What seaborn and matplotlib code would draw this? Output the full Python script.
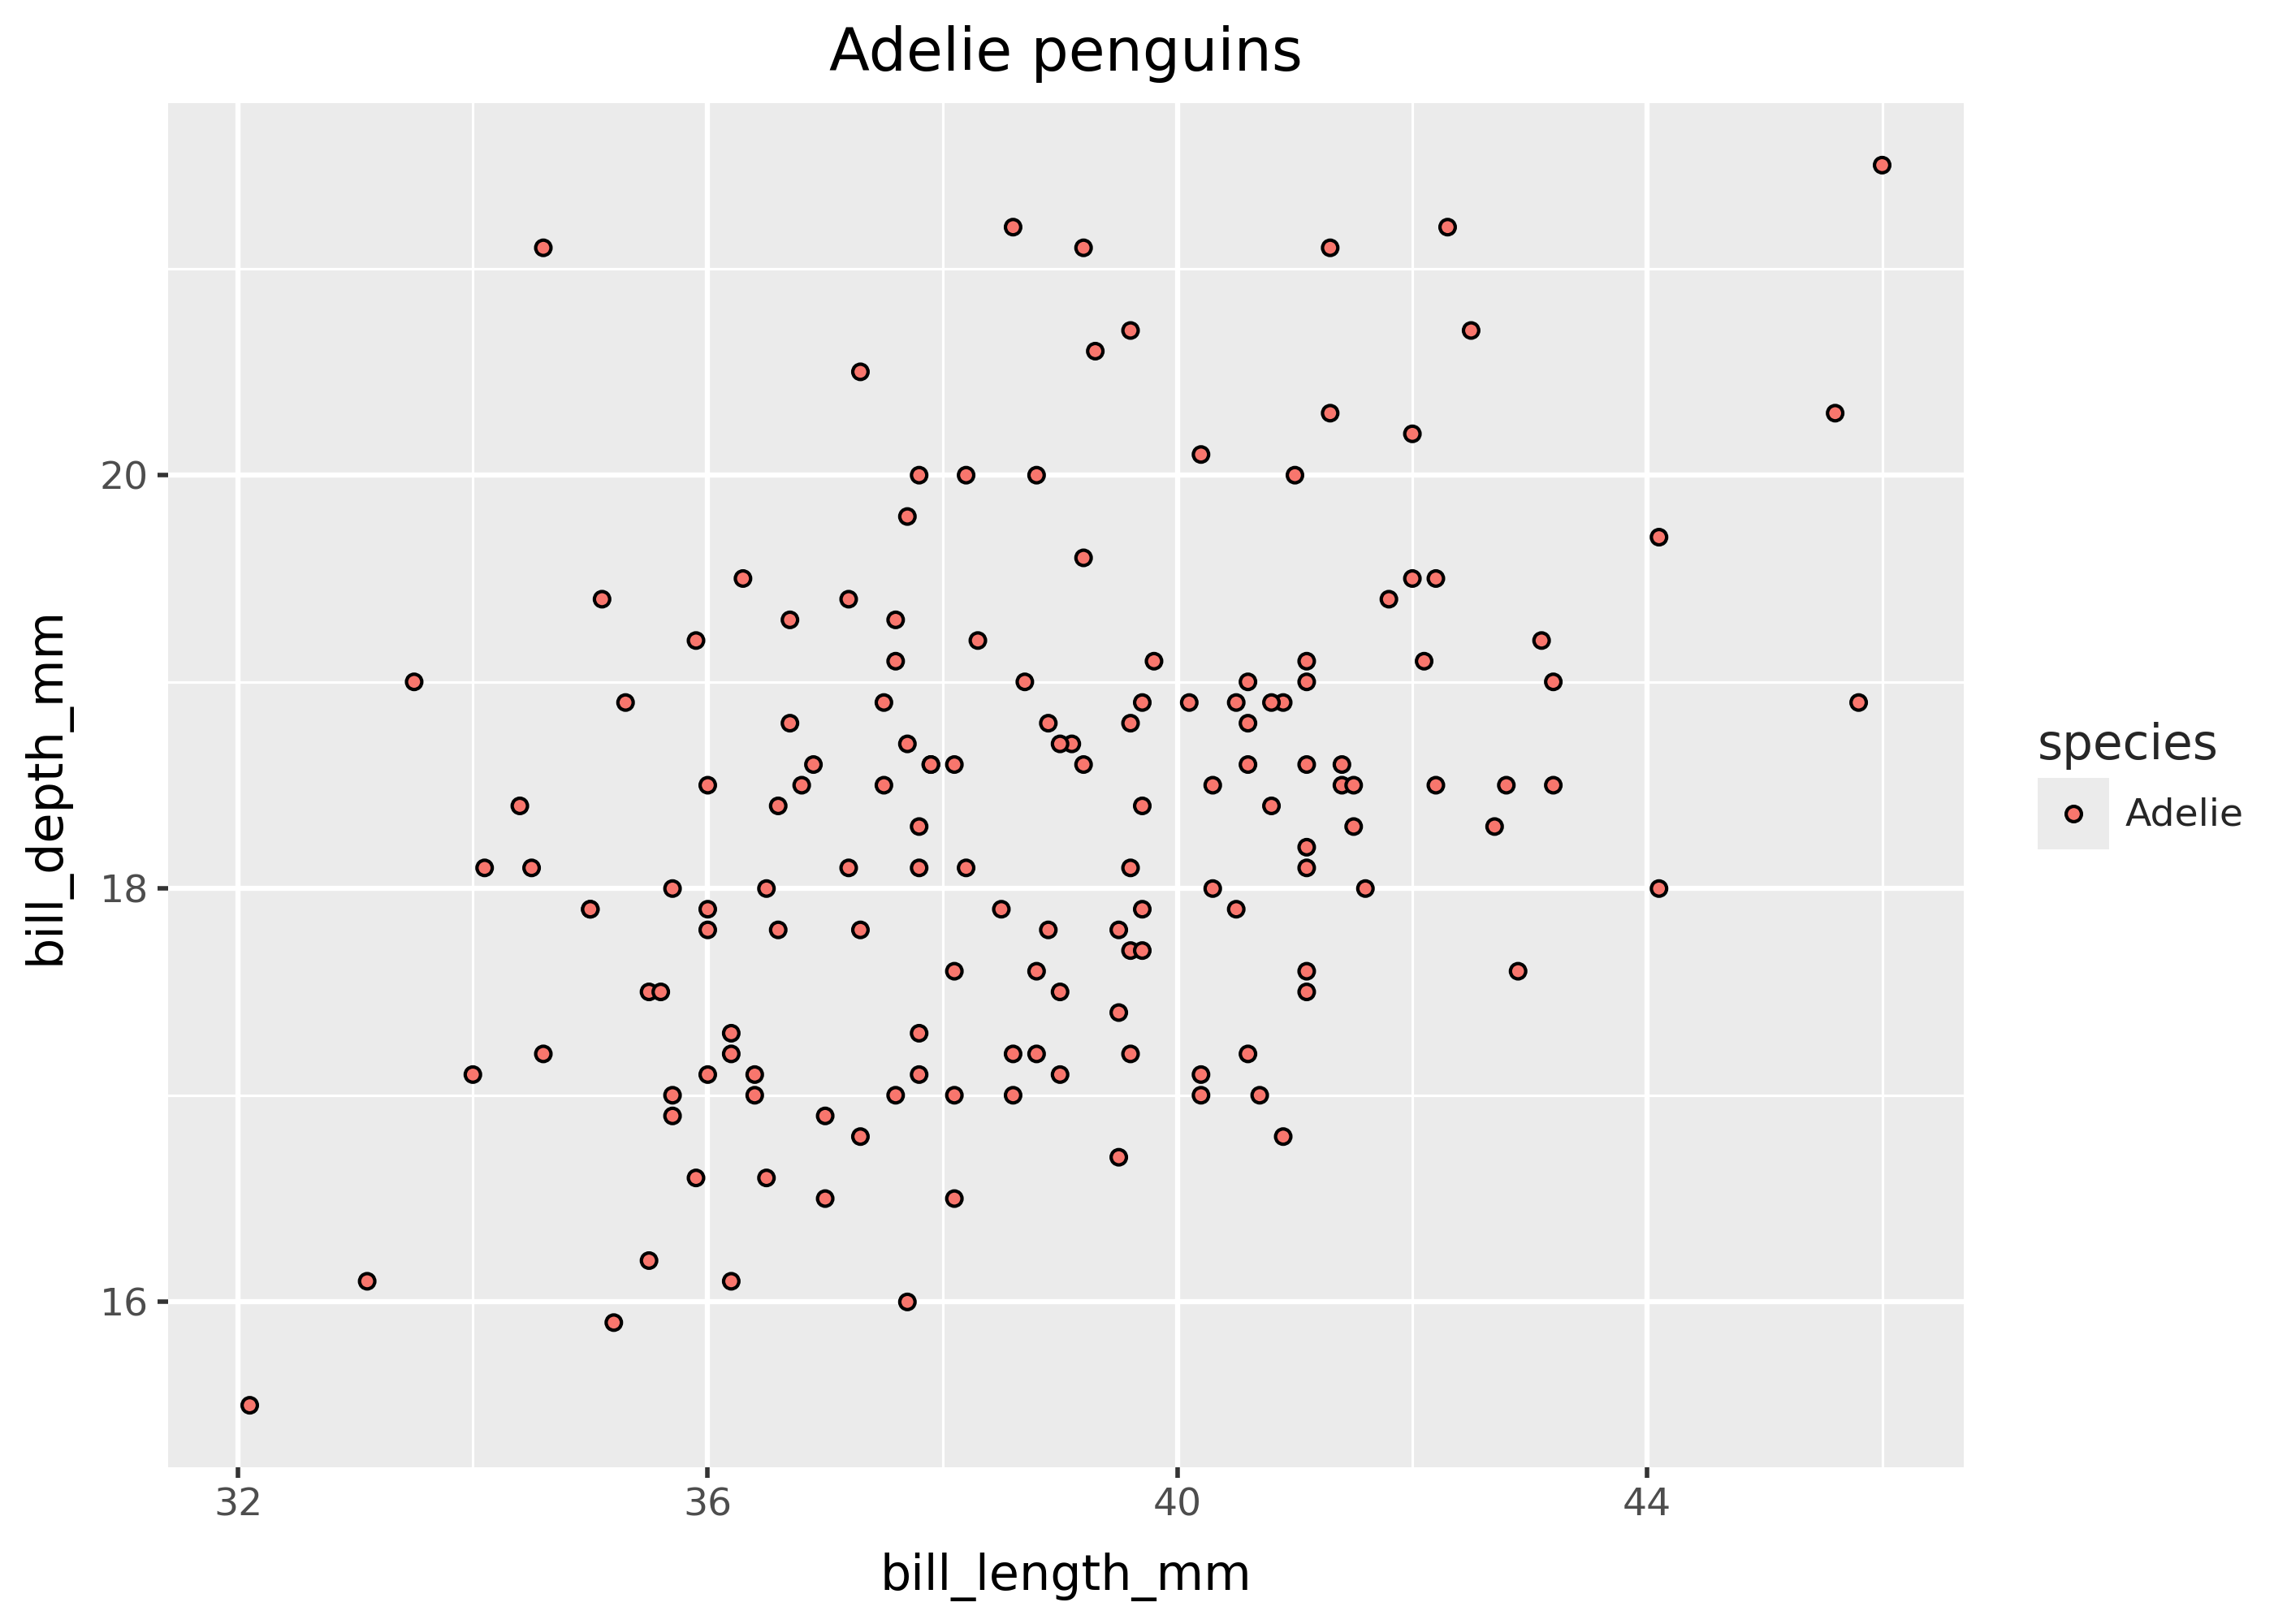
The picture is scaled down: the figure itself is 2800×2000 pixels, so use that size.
import numpy as np
import pandas as pd
import seaborn as sns
import matplotlib
matplotlib.use("Agg")
from matplotlib import pyplot as plt
from matplotlib.ticker import MultipleLocator

# Adelie penguins (palmerpenguins), rows with missing values dropped
bill_length_mm = [
    39.1, 39.5, 40.3, 36.7, 39.3, 38.9, 39.2, 34.1, 42.0, 37.8,
    37.8, 41.1, 38.6, 34.6, 36.6, 38.7, 42.5, 34.4, 46.0, 37.8,
    37.7, 35.9, 38.2, 38.8, 35.3, 40.6, 40.5, 37.9, 40.5, 39.5,
    37.2, 39.5, 40.9, 36.4, 39.2, 38.8, 42.2, 37.6, 39.8, 36.5,
    40.8, 36.0, 44.1, 37.0, 39.6, 41.1, 37.5, 36.0, 42.3, 39.6,
    40.1, 35.0, 42.0, 34.5, 41.4, 39.0, 40.6, 36.5, 37.6, 35.7,
    41.3, 37.6, 41.1, 36.4, 41.6, 35.5, 41.1, 35.9, 41.8, 33.5,
    39.7, 39.6, 45.8, 35.5, 42.8, 40.9, 37.2, 36.2, 42.1, 34.6,
    42.9, 36.7, 35.1, 37.3, 41.3, 36.3, 36.9, 38.3, 38.9, 35.7,
    41.1, 34.0, 39.6, 36.2, 40.8, 38.1, 40.3, 33.1, 43.2, 35.0,
    41.0, 37.7, 37.8, 37.9, 39.7, 38.6, 38.2, 38.1, 43.2, 38.1,
    45.6, 39.7, 42.2, 39.6, 42.7, 38.6, 37.3, 35.7, 41.1, 36.2,
    37.7, 40.2, 41.4, 35.2, 40.6, 38.8, 41.5, 39.0, 44.1, 38.5,
    43.1, 36.8, 37.5, 38.1, 41.1, 35.6, 40.2, 37.0, 39.7, 40.2,
    40.6, 32.1, 40.7, 37.3, 39.0, 39.2, 36.6, 36.0, 37.8, 36.0,
    41.5,
]
bill_depth_mm = [
    18.7, 17.4, 18.0, 19.3, 20.6, 17.8, 19.6, 18.1, 20.2, 17.1,
    17.3, 17.6, 21.2, 21.1, 17.8, 19.0, 20.7, 18.4, 21.5, 18.3,
    18.7, 19.2, 18.1, 17.2, 18.9, 18.6, 17.9, 18.6, 18.9, 16.7,
    18.1, 17.8, 18.9, 17.0, 21.1, 20.0, 18.5, 19.3, 19.1, 18.0,
    18.4, 18.5, 19.7, 16.9, 18.8, 19.0, 18.9, 17.9, 21.2, 17.7,
    18.9, 17.9, 19.5, 18.1, 18.6, 17.5, 18.8, 16.6, 19.1, 16.9,
    21.1, 17.0, 18.2, 17.1, 18.0, 16.2, 19.1, 16.6, 19.4, 19.0,
    18.4, 17.2, 18.9, 17.5, 18.5, 16.8, 19.4, 16.1, 19.1, 17.2,
    17.6, 18.8, 19.4, 17.8, 20.3, 19.5, 18.6, 19.2, 18.8, 18.0,
    18.1, 17.1, 18.1, 17.3, 18.9, 18.6, 18.5, 16.1, 18.5, 17.9,
    20.0, 16.0, 20.0, 18.6, 18.9, 17.2, 20.0, 17.0, 19.0, 16.5,
    20.3, 17.7, 19.5, 20.7, 18.3, 17.0, 20.5, 17.0, 18.6, 17.2,
    19.8, 17.0, 18.5, 15.9, 19.0, 17.6, 18.3, 17.1, 18.0, 17.9,
    19.2, 18.5, 18.5, 17.6, 17.5, 17.5, 20.1, 16.5, 17.9, 17.1,
    17.2, 15.5, 17.0, 16.8, 18.7, 18.6, 18.4, 17.8, 18.1, 17.1,
    18.5,
]
species = ["Adelie"] * len(bill_length_mm)
point_color = "#F8766D"

df = pd.DataFrame({"bill_length_mm": bill_length_mm,
                   "bill_depth_mm": bill_depth_mm,
                   "species": species})

sns.set_theme(style="darkgrid")
plt.rcParams['font.family'] = ['DejaVu Sans']

W, H = 2800, 2000
fig = plt.figure(figsize=(14, 10), dpi=200)
fig.patch.set_facecolor("white")

# panel placement in pixels
left, right, top, bottom = 207, 2418, 127, 1807
ax = fig.add_axes([left / W, 1 - bottom / H, (right - left) / W, (bottom - top) / H])

pt_size, pt_lw = 46, 1.5
sns.scatterplot(data=df, x="bill_length_mm", y="bill_depth_mm", hue="species",
                palette=[point_color], edgecolor="black", linewidth=pt_lw, s=pt_size,
                legend=False, ax=ax, zorder=3)

# ggplot-style expansion (5% each side)
xr = max(bill_length_mm) - min(bill_length_mm)
yr = max(bill_depth_mm) - min(bill_depth_mm)
ax.set_xlim(min(bill_length_mm) - 0.05 * xr, max(bill_length_mm) + 0.05 * xr)
ax.set_ylim(min(bill_depth_mm) - 0.05 * yr, max(bill_depth_mm) + 0.05 * yr)

ax.set_facecolor("#EBEBEB")
ax.xaxis.set_major_locator(MultipleLocator(4))
ax.xaxis.set_minor_locator(MultipleLocator(2))
ax.yaxis.set_major_locator(MultipleLocator(2))
ax.yaxis.set_minor_locator(MultipleLocator(1))
ax.grid(which="major", color="white", linewidth=2.3)
ax.grid(which="minor", color="white", linewidth=1.15)
ax.set_axisbelow(True)
for s in ax.spines.values():
    s.set_visible(False)

ax.tick_params(which="major", length=4.8, width=2.0, color="#333333",
               labelsize=17, labelcolor="#4D4D4D", pad=3.9,
               bottom=True, left=True)
ax.tick_params(which="minor", length=0)

ax.set_xlabel("bill_length_mm", fontsize=21.7, color="black", labelpad=13)
ax.set_ylabel("bill_depth_mm", fontsize=21.7, color="black", labelpad=13)
ax.set_title("Adelie penguins", fontsize=26.3, color="black", pad=14.5)

# legend drawn ggplot-like: grey key box, title and label
fig.text(2509 / W, 1 - 935 / H, "species", fontsize=21.5, va="baseline", ha="left")
kax = fig.add_axes([2509 / W, 1 - 1046 / H, 88 / W, 88 / H])
kax.set_facecolor("#EBEBEB")
kax.scatter([0.5], [0.5], s=pt_size, c=point_color, edgecolors="black", linewidths=pt_lw)
kax.set_xlim(0, 1)
kax.set_ylim(0, 1)
kax.set_xticks([])
kax.set_yticks([])
kax.grid(False)
for s in kax.spines.values():
    s.set_visible(False)
fig.text(2617 / W, 1 - 1017 / H, species[0], fontsize=17, va="baseline", ha="left")

fig.savefig("out.png", dpi=200)
